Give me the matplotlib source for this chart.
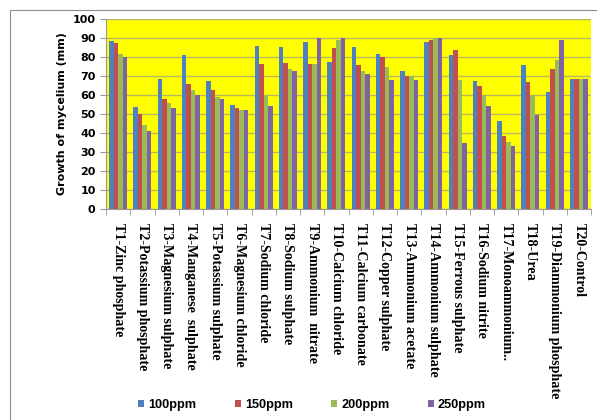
import numpy as np
import matplotlib.pyplot as plt
from matplotlib.patches import Rectangle

treatments = ['T1-Zinc phosphate', 'T2-Potassium phosphate', 'T3-Magnesium sulphate',
              'T4-Manganese  sulphate', 'T5-Potassium sulphate', 'T6-Magnesium chloride',
              'T7-Sodium chloride', 'T8-Sodium sulphate', 'T9-Ammonium  nitrate',
              'T10-Calcium chloride', 'T11-Calcium carbonate', 'T12-Copper sulphate',
              'T13-Ammonium acetate', 'T14-Ammonium sulphate', 'T15-Ferrous sulphate',
              'T16-Sodium nitrite', 'T17-Monoammonium..', 'T18-Urea',
              'T19-Diammonium phosphate', 'T20-Control']

ppm100 = [88.6, 53.9, 68.6, 81.0, 67.4, 54.9, 85.6, 85.4, 88.1, 77.4,
          85.4, 81.6, 72.8, 87.9, 80.9, 67.4, 46.3, 75.8, 61.4, 68.6]
ppm150 = [87.5, 49.8, 58.0, 66.0, 62.8, 53.3, 76.1, 77.0, 76.1, 84.6,
          75.8, 80.2, 70.0, 88.8, 83.7, 64.9, 38.2, 66.8, 73.9, 68.6]
ppm200 = [81.8, 44.4, 55.8, 62.8, 59.1, 52.1, 60.0, 73.9, 76.1, 89.1,
          72.5, 74.9, 70.0, 90.2, 67.7, 60.0, 35.1, 60.0, 78.6, 68.6]
ppm250 = [80.2, 41.0, 53.3, 60.0, 58.0, 52.1, 54.4, 72.5, 90.2, 90.2,
          71.0, 68.1, 68.1, 90.2, 34.9, 54.4, 33.3, 49.6, 88.8, 68.6]

series = [('100ppm', ppm100, '#4F81BD'), ('150ppm', ppm150, '#C0504D'),
          ('200ppm', ppm200, '#9BBB59'), ('250ppm', ppm250, '#8064A2')]

W, H = 597, 420
fig = plt.figure(figsize=(W / 100, H / 100), dpi=100)
# outer chart border (only top and left edges fall inside the picture)
fig.patches.append(Rectangle((10 / W, -0.1), 1.2, 1.1 - 10 / H, transform=fig.transFigure,
                             fill=False, edgecolor='#8c8c8c', linewidth=0.8))

ax = fig.add_axes([106 / W, 1 - 209 / H, 485 / W, 190 / H])
ax.set_facecolor('#FFFF00')

x = np.arange(len(treatments))
bw = 0.185
for i, (name, vals, col) in enumerate(series):
    ax.bar(x + (i - 1.5) * bw, vals, bw, color=col, label=name, zorder=3)

ax.set_xlim(-0.5, len(treatments) - 0.5)
ax.set_ylim(0, 100)
ax.set_yticks(range(0, 101, 10))
ax.yaxis.grid(True, color='#b8b860', linewidth=1.0, zorder=0)
ax.set_axisbelow(True)

ax.set_xticks(x)
ax.set_xticklabels(treatments, rotation=-90, fontfamily='Liberation Serif',
                   fontweight='bold', fontsize=10.1, va='top', ha='center')
ax.tick_params(axis='x', which='major', length=0, pad=10)
ax.set_xticks(np.arange(-0.5, len(treatments), 1), minor=True)
ax.tick_params(axis='x', which='minor', length=4, color='#999999')
ax.tick_params(axis='y', length=4, color='#999999', labelsize=8)
for lab in ax.get_yticklabels():
    lab.set_fontweight('bold')

for s in ['top', 'right']:
    ax.spines[s].set_visible(False)
for s in ['left', 'bottom']:
    ax.spines[s].set_color('#999999')

ax.set_ylabel('Growth of mycelium (mm)', fontsize=8, fontweight='bold', labelpad=4)

fig.legend(loc='center', bbox_to_anchor=(312 / W, 1 - 405 / H), ncol=4, frameon=False,
           prop={'size': 9.2, 'weight': 'bold', 'family': 'Liberation Sans'},
           handlelength=0.5, handleheight=0.5, columnspacing=3.0,
           handletextpad=0.3)

fig.savefig('out.png', dpi=100)
